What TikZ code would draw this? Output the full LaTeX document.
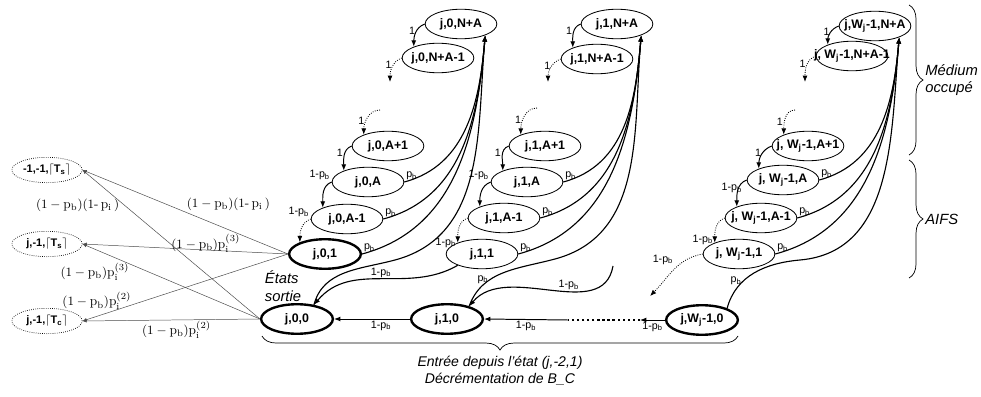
\documentclass[tikz,border=0pt]{standalone}
\usepackage{fontspec}
\newfontfamily\arialfont{Liberation Sans}
\usetikzlibrary{shapes.geometric,arrows.meta,decorations.pathreplacing}
\newcommand{\pbusy}{p\textsubscript{b}}
\newcommand{\wj}{W\textsubscript{j}}

\tikzset{
	state/.style={ellipse, draw, line width=0.6pt, minimum width=51pt, minimum height=21pt, inner xsep=-9pt, inner ysep=0pt, font=\arialfont\bfseries\fontsize{8.8}{10}\selectfont},
	sortie/.style={state, line width=1.7pt},
	hors/.style={ellipse, draw, densely dotted, line width=0.5pt, minimum width=50pt, minimum height=18pt, inner xsep=-8pt, inner ysep=0pt, font=\arialfont\bfseries\fontsize{7.8}{9}\selectfont},
	lbl/.style={font=\arialfont\fontsize{7.6}{9}\selectfont, inner sep=1pt},
	prob/.style={font=\fontsize{9.5}{11}\selectfont, inner sep=0pt},
	note/.style={font=\arialfont\itshape\fontsize{10.5}{12.5}\selectfont, align=left},
	busy/.style={line width=0.8pt, ->},
	back/.style={line width=0.7pt, ->},
	fwd/.style={line width=0.6pt, densely dotted, ->},
	exitline/.style={line width=0.35pt, draw=black!70, -{Latex[length=3pt,width=2.4pt]}},
	accolade/.style={decorate, decoration={brace, amplitude=10pt}, line width=0.5pt},
}

\begin{document}
\begin{tikzpicture}[x=0.025cm, y=0.025cm, >={Latex[length=4.5pt,width=3.5pt]}]
	\useasboundingbox (0,0) rectangle (981,396);

	\node[state] (a0N) at (461,372) {j,0,N+A};
	\node[state] (a0N1) at (438,338) {j,0,N+A-1};
	\node[state] (a0A1) at (388,250) {j,0,A+1};
	\node[state] (a0A) at (368,214) {j,0,A};
	\node[state] (a0Am) at (347,177) {j,0,A-1};
	\node[sortie] (a01) at (325,142) {j,0,1};
	\node[sortie] (a00) at (297,77) {j,0,0};

	\node[state] (b1N) at (617,372) {j,1,N+A};
	\node[state] (b1N1) at (597,337) {j,1,N+A-1};
	\node[state] (b1A1) at (545,250) {j,1,A+1};
	\node[state] (b1A) at (527,214) {j,1,A};
	\node[state] (b1Am) at (504,178) {j,1,A-1};
	\node[state] (b11) at (482,142) {j,1,1};
	\node[sortie] (b10) at (447,77) {j,1,0};

	\node[state] (wN) at (875,370) {j,\wj-1,N+A};
	\node[state] (wN1) at (852,340) {j, \wj-1,N+A-1};
	\node[state] (wA1) at (808,250) {j, \wj-1,A+1};
	\node[state] (wA) at (783,216) {j, \wj-1,A};
	\node[state] (wAm) at (761,178) {j, \wj-1,A-1};
	\node[state] (w1) at (739,142) {j, \wj-1,1};
	\node[sortie] (w0) at (702,76) {j,\wj-1,0};

	\node[hors] (x1) at (47,226) {-1,-1,$\lceil$T\textsubscript{s}$\rceil$};
	\node[hors] (x2) at (47,152) {j,-1,$\lceil$T\textsubscript{s}$\rceil$};
	\node[hors] (x3) at (47,75) {j,-1,$\lceil$T\textsubscript{c}$\rceil$};

	\node[note] (etats) at (283,110) {États\\sortie};

	\coordinate (a0f) at (390,314);
	\coordinate (a0t) at (380,286);
	\coordinate (b1f) at (548,314);
	\coordinate (b1t) at (537,288);
	\coordinate (b1in) at (613,130);
	\coordinate (wf) at (805,314);
	\coordinate (wt) at (795,286);
	\coordinate (wout) at (650,100);
	\coordinate (m0) at (395,136);
	\coordinate (m1) at (555,137);
	\coordinate (m2) at (800,136);
	\coordinate (dA) at (640,76);
	\coordinate (dB) at (568,76);

	\draw[back] (a0N.west) to[out=200,in=90] node[lbl,left,pos=0.4]{1} (a0N1.155);
	\draw[fwd] (a0N1.west) to[out=200,in=90] node[lbl,left,pos=0.4]{1} (a0f);
	\draw[fwd] (a0t) to[out=180,in=90] node[lbl,left,pos=0.6]{1} (a0A1.155);
	\draw[back] (a0A1.west) to[out=200,in=90] node[lbl,left,pos=0.4]{1} (a0A.155);
	\draw[back] (a0A.west) to[out=200,in=90] node[lbl,above left,pos=0]{1-\pbusy} (a0Am.155);
	\draw[fwd] (a0Am.west) to[out=200,in=90] node[lbl,above left,pos=0]{1-\pbusy} (a01.155);
	\draw[busy] (a0A.east) to[out=15,in=-95] node[lbl,above right,pos=0]{\pbusy} (a0N.-25);
	\draw[busy] (a0Am.east) to[out=15,in=-95] node[lbl,above right,pos=0]{\pbusy} (a0N.-25);
	\draw[busy] (a01.east) to[out=15,in=-95] node[lbl,above right,pos=0]{\pbusy} (a0N.-25);
	\draw[busy] (a00.40) to[out=75,in=195] (m0) to[out=15,in=-95] (a0N.-25);

	\draw[back] (b1N.west) to[out=200,in=90] node[lbl,left,pos=0.4]{1} (b1N1.155);
	\draw[fwd] (b1N1.west) to[out=200,in=90] node[lbl,left,pos=0.4]{1} (b1f);
	\draw[fwd] (b1t) to[out=180,in=90] node[lbl,left,pos=0.6]{1} (b1A1.155);
	\draw[back] (b1A1.west) to[out=200,in=90] node[lbl,left,pos=0.4]{1} (b1A.155);
	\draw[back] (b1A.west) to[out=200,in=90] node[lbl,above left,pos=0]{1-\pbusy} (b1Am.155);
	\draw[fwd] (b1Am.west) to[out=200,in=90] node[lbl,left,pos=1]{1-\pbusy} (b11.155);
	\draw[busy] (b1A.east) to[out=15,in=-95] node[lbl,above right,pos=0]{\pbusy} (b1N.-25);
	\draw[busy] (b1Am.east) to[out=15,in=-95] node[lbl,above right,pos=0]{\pbusy} (b1N.-25);
	\draw[busy] (b11.east) to[out=15,in=-95] node[lbl,above right,pos=0]{\pbusy} (b1N.-25);
	\draw[busy] (b10.30) to[out=70,in=195] node[lbl,left,pos=0.35]{\pbusy} (m1) to[out=15,in=-95] (b1N.-25);
	\draw[busy] (b11.205) to[out=210,in=50] node[lbl,above]{1-\pbusy} (a00.40);
	\draw[busy] (b1in) to[out=-100,in=50] node[lbl,above,pos=0.4]{1-\pbusy} (b10.30);

	\draw[back] (wN.west) to[out=200,in=90] node[lbl,left,pos=0.4]{1} (wN1.155);
	\draw[fwd] (wN1.west) to[out=200,in=90] node[lbl,left,pos=0.4]{1} (wf);
	\draw[fwd] (wt) to[out=180,in=90] node[lbl,left,pos=0.6]{1} (wA1.155);
	\draw[back] (wA1.west) to[out=200,in=90] node[lbl,left,pos=0.4]{1} (wA.155);
	\draw[back] (wA.west) to[out=200,in=90] node[lbl,below left,pos=0.1]{1-\pbusy} (wAm.155);
	\draw[fwd] (wAm.west) to[out=200,in=90] node[lbl,left,pos=0.9]{1-\pbusy} (w1.155);
	\draw[fwd] (w1.west) to[out=190,in=45] node[lbl,left=8pt,pos=0.25]{1-\pbusy} (wout);
	\draw[busy] (wA.east) to[out=15,in=-95] node[lbl,above right,pos=0]{\pbusy} (wN.-25);
	\draw[busy] (wAm.east) to[out=15,in=-95] node[lbl,above right,pos=0]{\pbusy} (wN.-25);
	\draw[busy] (w1.east) to[out=15,in=-95] node[lbl,above right,pos=0]{\pbusy} (wN.-25);
	\draw[busy] (w0.25) to[out=75,in=185] node[lbl,left,pos=0.35]{\pbusy} (m2) to[out=5,in=-95] (wN.-25);

	\draw[back] (w0.west) -- node[lbl,below]{1-\pbusy} (dA);
	\draw[line width=1.6pt, dotted] (dA) -- (dB);
	\draw[back] (dB) -- node[lbl,below]{1-\pbusy} (b10.east);
	\draw[back] (b10.west) -- node[lbl,below,pos=0.38]{1-\pbusy} (a00.east);

	\draw[exitline] (a01.west) -- node[prob,pos=0.29,yshift=18pt]{$(1-\mathrm{p_b})(1\mbox{-}\,\mathrm{p_i}\,)$} (x1.east);
	\draw[exitline] (a01.west) -- node[prob,pos=0.4,yshift=5pt]{$(1-\mathrm{p_b})\mathrm{p_i^{(3)}}$} (x2.east);
	\draw[exitline] (a01.west) -- node[prob,pos=0.93,yshift=11pt]{$(1-\mathrm{p_b})\mathrm{p_i^{(2)}}$} (x3.east);
	\draw[exitline] (a00.west) -- node[prob,pos=1,xshift=-3.5pt,yshift=-25pt]{$(1-\mathrm{p_b})(1\mbox{-}\,\mathrm{p_i}\,)$} (x1.east);
	\draw[exitline] (a00.west) -- node[prob,pos=0.93,yshift=-16pt]{$(1-\mathrm{p_b})\mathrm{p_i^{(3)}}$} (x2.east);
	\draw[exitline] (a00.west) -- node[prob,pos=0.47,yshift=-7pt]{$(1-\mathrm{p_b})\mathrm{p_i^{(2)}}$} (x3.east);

	\draw[accolade] (909,391) -- node[note,right=8pt]{Médium\\occupé} (909,241);
	\draw[accolade] (909,236) -- node[note,right=8pt]{AIFS} (909,118);
	\draw[accolade] (738,60) -- node[note,below=11pt,align=center,font=\arialfont\itshape\fontsize{10}{12}\selectfont]{Entrée depuis l’état (j,-2,1)\\Décrémentation de B\_C} (262,60);
\end{tikzpicture}
\end{document}
